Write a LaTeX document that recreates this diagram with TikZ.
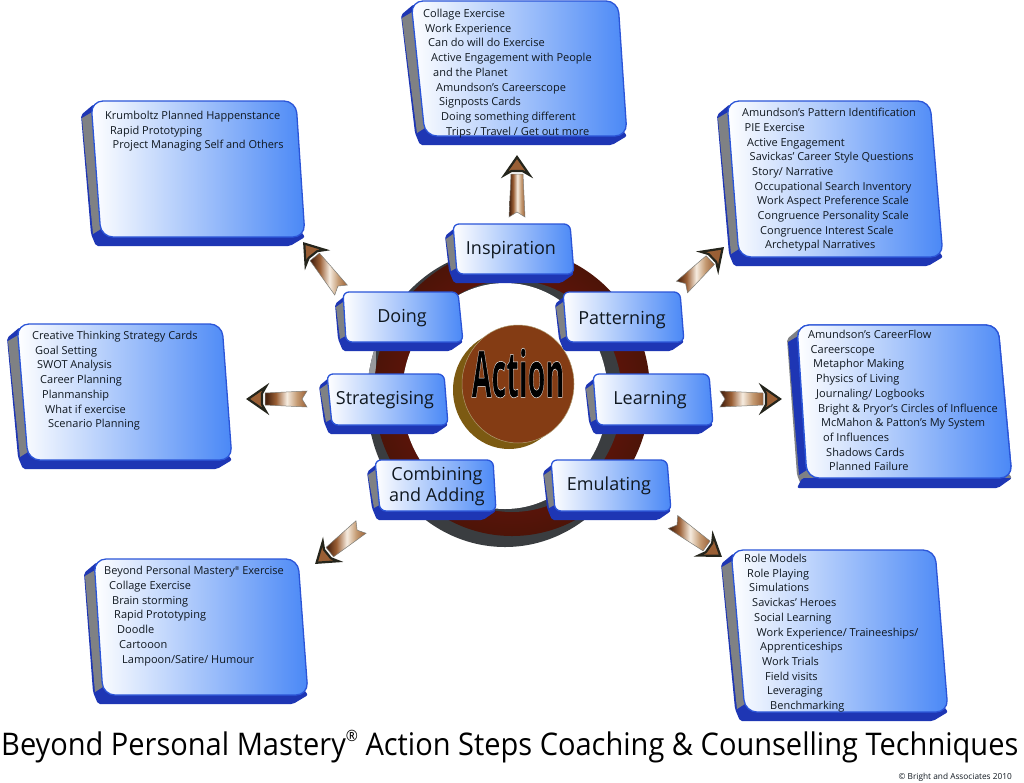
\documentclass[tikz,border=0pt]{standalone}
\usepackage{fontspec}
\setmainfont{Open Sans}
\newfontfamily\titlefont[FakeStretch=0.93]{Open Sans}
\usetikzlibrary{calc}
\definecolor{facefar}{HTML}{4A88F6}
\definecolor{edgeblue}{HTML}{2B55D8}
\definecolor{deepblue}{HTML}{1E36B4}
\definecolor{sidegray}{HTML}{7F8184}
\definecolor{ringdark}{HTML}{3A3D40}
\definecolor{ringbrown}{HTML}{6E1C0C}
\definecolor{discface}{HTML}{843C14}
\definecolor{discside}{HTML}{7C5A12}
\definecolor{arrowdark}{HTML}{4A2410}
\definecolor{arrowmid}{HTML}{9A5F35}
\definecolor{arrowlight}{HTML}{F6ECE0}
\definecolor{arrowtan}{HTML}{C49A72}
\definecolor{arrowedge}{HTML}{25251C}
\definecolor{inktext}{HTML}{101820}
\pgfdeclarehorizontalshading{shaftshade}{100bp}{color(0bp)=(arrowdark); color(27bp)=(arrowdark); color(38bp)=(arrowmid); color(51bp)=(arrowlight); color(63bp)=(arrowtan); color(75bp)=(arrowmid); color(100bp)=(arrowmid)}
\tikzset{
  facebox/.style={rounded corners=#1,line width=1.3pt,draw=edgeblue,left color=white,right color=facefar},
  listtext/.style={anchor=north west,inner sep=0pt,align=left,text=inktext,font=\fontsize{11}{14.7}\selectfont},
  boxlabel/.style={inner sep=0pt,align=center,text=inktext,font=\fontsize{18}{21}\selectfont},
}
\def\backc{deepblue}
\newcommand\slab[9]{%
  \fill[\backc,rounded corners=2pt] (#1+3,#2+3) -- (#1-#7,#2+#7+4) -- (#5-#7,#6-3) -- (#5-#7+5,#6+9) -- (#4-#7-5,#6+9) -- (#4,#6) -- (#4-6,#6-8) -- cycle;
  \fill[#9] (#1-#7+1,#2+#7+7) -- (#1+3,#2+#7) -- (#5+3,#6-#7) -- (#5-#7+2,#6-3) -- cycle;
  \path[facebox=#8] (#1,#2) -- (#3,#2) -- (#4,#6) -- (#5,#6) -- cycle;
}
\newcommand\blockarrow[2]{%
  \path let \p1=($(#2)-(#1)$), \n1={veclen(\x1,\y1)}, \n2={atan2(\y1,\x1)} in
    \pgfextra{\xdef\arrlen{\n1}\xdef\arrang{\n2}};
  \begin{scope}[shift={(#1)},rotate=\arrang,x=1pt,y=1pt]
    \pgfmathsetmacro\hb{\arrlen/1pt-19}
    \pgfmathsetmacro\ln{\arrlen/1pt}
    \shade[shading=shaftshade,draw=arrowedge!60,line width=.5pt]
      (0,-8) -- (5,0) -- (0,8) -- (\hb,6) -- (\hb,-6) -- cycle;
    \fill[arrowmid,draw=arrowedge,line width=2.2pt,line join=miter]
      (\hb-1,-12.5) -- (\ln-2,0) -- (\hb-1,12.5) -- (\hb+3,5.5) -- (\hb+3,-5.5) -- cycle;
  \end{scope}
}
\newcommand\idt[1]{\hspace*{#1pt}}
\newcommand\regmark{\raisebox{.42em}{\scalebox{.5}{®}}}
\begin{document}
\begin{tikzpicture}[x=1pt,y=-1pt]
\useasboundingbox (0,0) rectangle (1024,782);
\fill[white] (0,0) rectangle (1024,782);
% ring
\fill[ringdark] (505,398) ellipse [x radius=138,y radius=149];
\begin{scope}
  \clip (505,398) ellipse [x radius=138,y radius=149];
  \fill[sidegray!80] (360,345) rectangle (376,382);
\end{scope}
\shade[inner color=ringbrown!80!red,outer color=ringbrown!70!black] (512,392) ellipse [x radius=138,y radius=144];
\fill[ringdark] (512,396) ellipse [x radius=110,y radius=116];
\fill[white] (505,396) ellipse [x radius=103,y radius=113];
% centre disc
\fill[discside] (509,390) ellipse [x radius=56,y radius=59];
\fill[discface,draw=discside!60!white,line width=.5pt] (518,384) ellipse [x radius=56,y radius=59];
\node[name=action,xscale=.72,yscale=1.62,inner sep=0pt,font=\bfseries\fontsize{40}{40}\selectfont] at (518,373)
  {\special{pdf:code q 2 Tr 0.3 w 1 1 1 RG}Action\special{pdf:code Q}};
% centre boxes
\slab{453}{224}{570}{574}{457}{274}{8}{6}{sidegray}
\slab{343}{292}{458}{463}{346}{342}{8}{6}{sidegray}
\slab{563}{292}{680}{684}{567}{342}{8}{6}{sidegray}
\slab{327}{374}{444}{448}{332}{425}{8}{6}{sidegray}
\slab{593}{374}{709}{713}{597}{425}{8}{6}{sidegray}
\slab{375}{460}{493}{496}{380}{511}{8}{6}{sidegray}
\slab{551}{460}{667}{671}{555}{511}{8}{6}{sidegray}
\node[boxlabel,name=inspiration] at (511,250) {Inspiration};
\node[boxlabel,name=doing] at (402,318) {Doing};
\node[boxlabel,name=patterning] at (622,320) {Patterning};
\node[boxlabel,name=strategising] at (385,400) {Strategising};
\node[boxlabel,name=learning] at (650,400) {Learning};
\node[boxlabel,name=combining] at (437,486) {Combining\\and Adding};
\node[boxlabel,name=emulating] at (609,486) {Emulating};
% outer panels
\slab{411}{1}{618}{627}{425}{136}{10}{12}{sidegray}
\slab{91}{101}{296}{305}{101}{237}{10}{12}{sidegray}
\slab{727}{101}{930}{943}{739}{257}{10}{12}{sidegray}
\slab{17}{324}{222}{232}{28}{460}{10}{12}{sidegray}
\slab{94}{559}{298}{308}{103}{695}{10}{12}{sidegray}
\slab{731}{550}{935}{948}{745}{712}{10}{12}{sidegray}
\def\backc{sidegray}
\slab{797}{325}{998}{1012}{807}{478}{10}{12}{deepblue}
\fill[deepblue,rounded corners=2pt] (797,488) -- (802,478) -- (1012,478) -- (998,488) -- cycle;
\path[facebox=12] (797,325) -- (998,325) -- (1012,478) -- (807,478) -- cycle;
\node[listtext,name=ptop] at (423,9) {Collage Exercise\\\idt{2}Work Experience\\\idt{5}Can do will do Exercise\\\idt{8}Active Engagement with People\\\idt{10}and the Planet\\\idt{13}Amundson’s Careerscope\\\idt{16}Signposts Cards\\\idt{18}Doing something different\\\idt{23}Trips / Travel / Get out more};
\node[listtext,name=pdoing] at (105,111) {Krumboltz Planned Happenstance\\\idt{5}Rapid Prototyping\\\idt{7.5}Project Managing Self and Others};
\node[listtext,name=ppatt] at (742,108) {Amundson’s Pattern Identification\\\idt{2.5}PIE Exercise\\\idt{5}Active Engagement\\\idt{7.5}Savickas’ Career Style Questions\\\idt{10}Story/ Narrative\\\idt{12.5}Occupational Search Inventory\\\idt{15}Work Aspect Preference Scale\\\idt{15.5}Congruence Personality Scale\\\idt{18}Congruence Interest Scale\\\idt{23}Archetypal Narratives};
\node[listtext,name=plearn] at (808,330) {Amundson’s CareerFlow\\\idt{2.5}Careerscope\\\idt{5}Metaphor Making\\\idt{8}Physics of Living\\\idt{8}Journaling/ Logbooks\\\idt{10}Bright \& Pryor’s Circles of Influence\\\idt{13}McMahon \& Patton’s My System\\\idt{15}of Influences\\\idt{18}Shadows Cards\\\idt{21}Planned Failure};
\node[listtext,name=pstrat] at (32,331) {Creative Thinking Strategy Cards\\\idt{3}Goal Setting\\\idt{5}SWOT Analysis\\\idt{8}Career Planning\\\idt{10}Planmanship\\\idt{13}What if exercise\\\idt{16}Scenario Planning};
\node[listtext,name=pcomb] at (104,566) {Beyond Personal Mastery\regmark{} Exercise\\\idt{5}Collage Exercise\\\idt{8}Brain storming\\\idt{10}Rapid Prototyping\\\idt{13}Doodle\\\idt{15}Cartooon\\\idt{18}Lampoon/Satire/ Humour};
\node[listtext,name=pemul] at (744,554) {Role Models\\\idt{3}Role Playing\\\idt{5}Simulations\\\idt{8}Savickas’ Heroes\\\idt{10}Social Learning\\\idt{12.5}Work Experience/ Traineeships/\\\idt{16}Apprenticeships\\\idt{18}Work Trials\\\idt{21}Field visits\\\idt{23}Leveraging\\\idt{26}Benchmarking};
% arrow ends
\coordinate (a1t) at (517,217); \coordinate (a1h) at (517,155);
\coordinate (a2t) at (341,290); \coordinate (a2h) at (303,242);
\coordinate (a3t) at (682,287); \coordinate (a3h) at (724,247);
\coordinate (a4t) at (307,399); \coordinate (a4h) at (246,399);
\coordinate (a5t) at (720,399); \coordinate (a5h) at (782,399);
\coordinate (a6t) at (361,527); \coordinate (a6h) at (315,564);
\coordinate (a7t) at (673,522); \coordinate (a7h) at (722,557);
\blockarrow{a1t}{a1h}
\blockarrow{a2t}{a2h}
\blockarrow{a3t}{a3h}
\blockarrow{a4t}{a4h}
\blockarrow{a5t}{a5h}
\blockarrow{a6t}{a6h}
\blockarrow{a7t}{a7h}
% title
\node[name=title,anchor=base west,inner sep=0pt,font=\titlefont\fontsize{31.2}{36}\selectfont] at (1,755) {Beyond Personal Mastery\regmark{} Action Steps Coaching \& Counselling Techniques};
\node[name=copyright,anchor=base east,inner sep=0pt,text=inktext,font=\fontsize{8.3}{9}\selectfont] at (1012,779) {© Bright and Associates 2010};
\end{tikzpicture}
\end{document}
